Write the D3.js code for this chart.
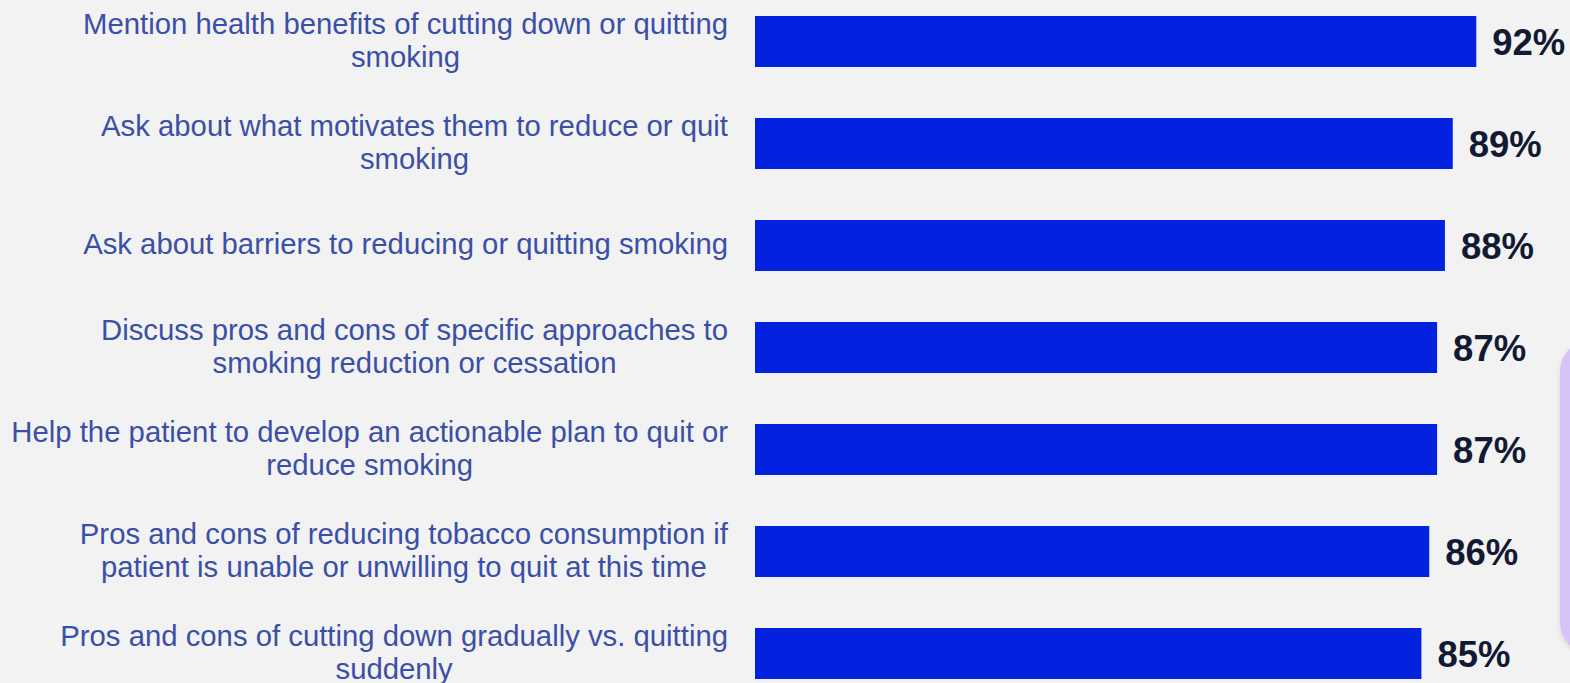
<!DOCTYPE html>
<html>
<head>
<meta charset="utf-8">
<script src="https://cdn.jsdelivr.net/npm/d3@7"></script>
<style>
  html, body { margin: 0; padding: 0; background: #f2f2f2; }
  svg { display: block; }
</style>
</head>
<body>
<svg id="chart" width="1570" height="683"></svg>
<script>
// Share of respondents by counselling action (percent)
const categories = [
  "Mention health benefits of cutting down or quitting smoking",
  "Ask about what motivates them to reduce or quit smoking",
  "Ask about barriers to reducing or quitting smoking",
  "Discuss pros and cons of specific approaches to smoking reduction or cessation",
  "Help the patient to develop an actionable plan to quit or reduce smoking",
  "Pros and cons of reducing tobacco consumption if patient is unable or unwilling to quit at this time",
  "Pros and cons of cutting down gradually vs. quitting suddenly"
];
// Line breaks used for each category label
const labelLines = [
  ["Mention health benefits of cutting down or quitting", "smoking"],
  ["Ask about what motivates them to reduce or quit", "smoking"],
  ["Ask about barriers to reducing or quitting smoking"],
  ["Discuss pros and cons of specific approaches to", "smoking reduction or cessation"],
  ["Help the patient to develop an actionable plan to quit or", "reduce smoking"],
  ["Pros and cons of reducing tobacco consumption if", "patient is unable or unwilling to quit at this time"],
  ["Pros and cons of cutting down gradually vs. quitting", "suddenly"]
];
const values = [92, 89, 88, 87, 87, 86, 85];
const valueLabels = ["92%", "89%", "88%", "87%", "87%", "86%", "85%"];

const svg = d3.select("#chart");
const W = 1570, H = 683;

svg.append("rect").attr("width", W).attr("height", H).attr("fill", "#f2f2f2");

// Soft drop shadow for the side panel
const defs = svg.append("defs");
const f = defs.append("filter").attr("id", "panelShadow")
  .attr("x", "-20%").attr("y", "-10%").attr("width", "140%").attr("height", "130%");
f.append("feDropShadow").attr("dx", 0).attr("dy", 2).attr("stdDeviation", 2)
  .attr("flood-color", "#000").attr("flood-opacity", 0.12);

// Side panel peeking in from the right edge
svg.append("rect")
  .attr("x", 1560).attr("y", 341).attr("width", 120).attr("height", 312)
  .attr("rx", 30).attr("ry", 30)
  .attr("fill", "#d6c3f7")
  .attr("filter", "url(#panelShadow)");

const x = d3.scaleLinear().domain([0, 100]).range([755, 1539]);
const y = d3.scaleBand().domain(categories).range([-9.5, 704.5])
  .paddingInner(0.5).paddingOuter(0.25);

// Bars
svg.append("g").selectAll("rect")
  .data(categories)
  .join("rect")
  .attr("x", x(0))
  .attr("y", d => y(d))
  .attr("width", (d, i) => x(values[i]) - x(0))
  .attr("height", y.bandwidth())
  .attr("fill", "#0322e0");

// Value labels
svg.append("g").selectAll("text")
  .data(categories)
  .join("text")
  .attr("x", (d, i) => x(values[i]) + 16)
  .attr("y", d => y(d) + y.bandwidth() / 2 + 13)
  .attr("font-family", "'Liberation Sans', Arial, sans-serif")
  .attr("font-weight", "bold")
  .attr("font-size", 36.5)
  .attr("fill", "#121a33")
  .text((d, i) => valueLabels[i]);

// Category labels: block right-aligned, lines centred within block
const labelRight = 728;
const lineGap = 33;
const labelG = svg.append("g")
  .attr("font-family", "'Liberation Sans', Arial, sans-serif")
  .attr("font-size", 29.3)
  .attr("fill", "#3a4fa6");

categories.forEach((c, i) => {
  const lines = labelLines[i];
  const g = labelG.append("g");
  const texts = lines.map(l => g.append("text").text(l));
  const widths = texts.map(t => t.node().getComputedTextLength());
  const blockW = d3.max(widths);
  const cx = labelRight - blockW / 2;
  const cy = y(c) + y.bandwidth() / 2;
  const first = cy - (lines.length - 1) * lineGap / 2 + 8.5;
  texts.forEach((t, j) => {
    t.attr("x", cx).attr("y", first + j * lineGap).attr("text-anchor", "middle");
  });
});
</script>
</body>
</html>
